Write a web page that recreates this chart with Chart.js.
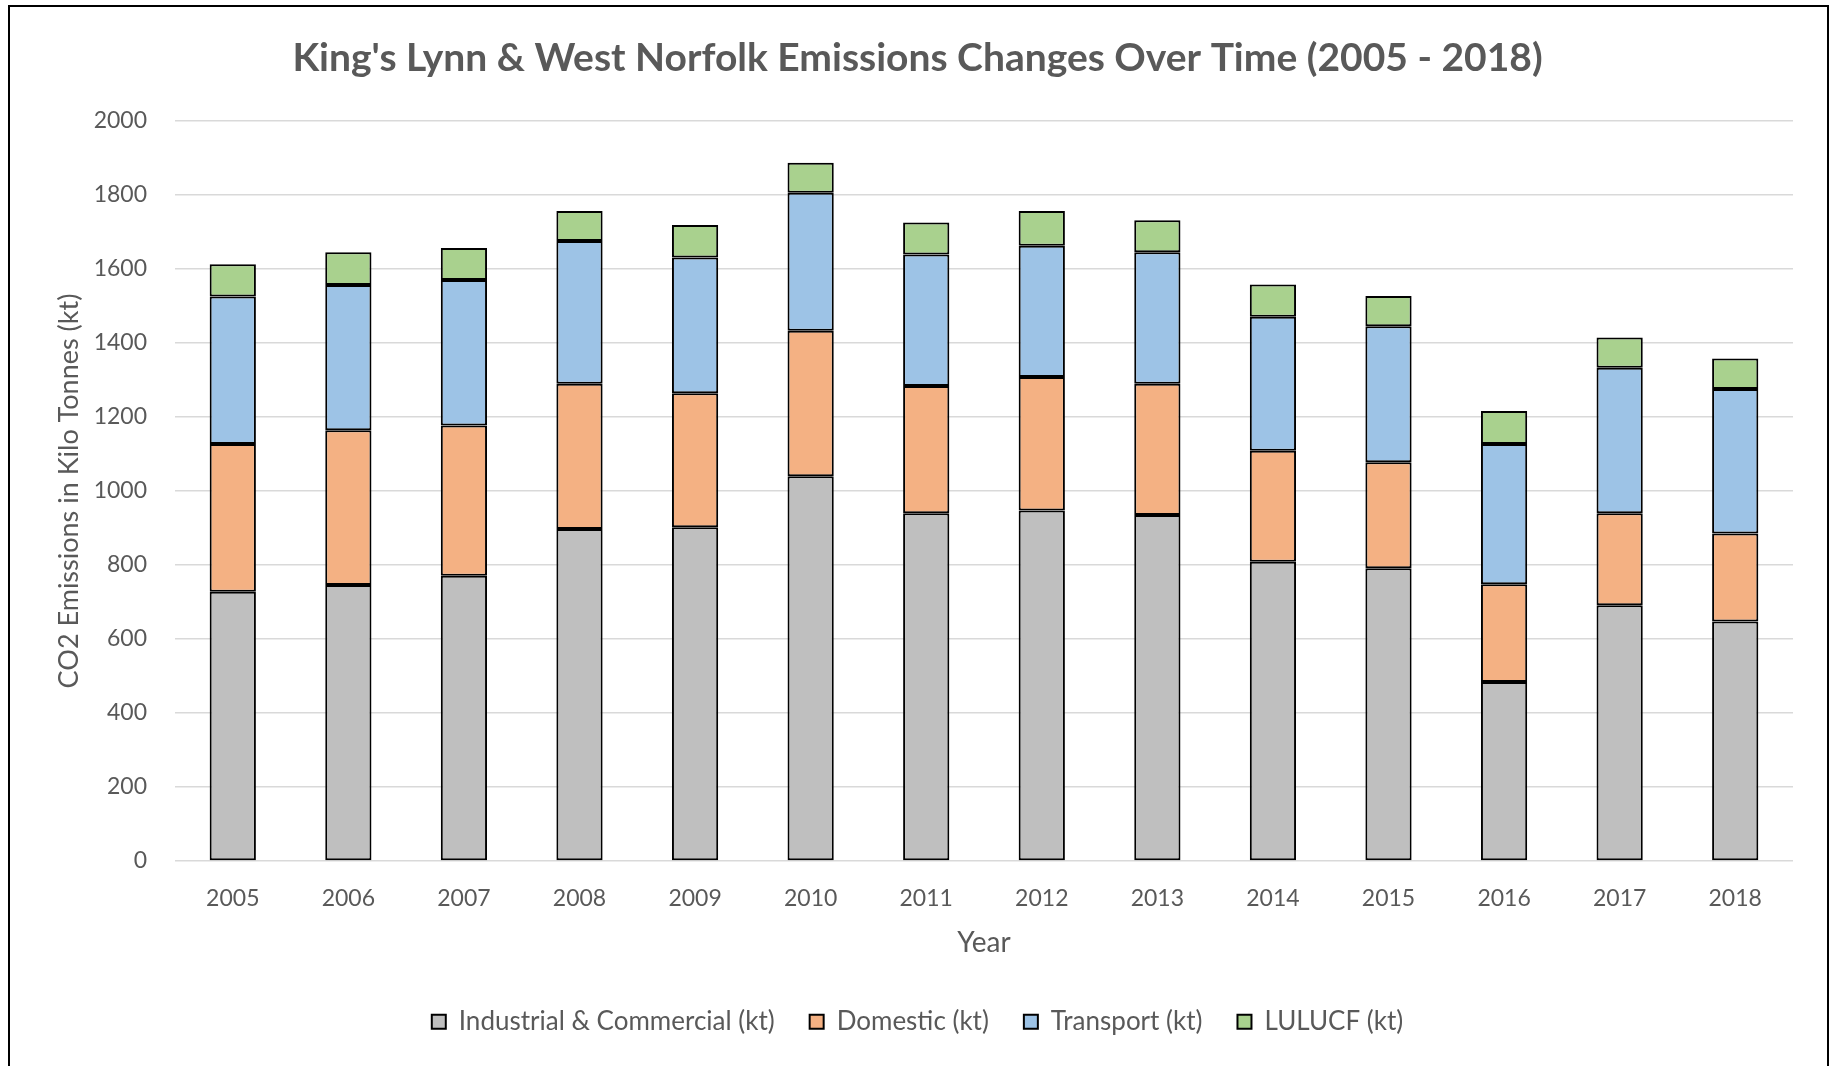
<!DOCTYPE html>
<html>
<head>
<meta charset="utf-8">
<title>King's Lynn &amp; West Norfolk Emissions</title>
<script src="https://cdn.jsdelivr.net/npm/chart.js@4/dist/chart.umd.min.js"></script>
<style>
  html, body { margin: 0; padding: 0; background: #fff; }
  #wrap { position: absolute; left: 0; top: 0; width: 1835px; height: 1066px; }
  #frame { position: absolute; left: 8px; top: 5px; width: 1821px; height: 1100px; border: 2px solid #000; box-sizing: border-box; pointer-events: none; }
</style>
</head>
<body>
<div id="wrap"><canvas id="emissions-chart"></canvas></div>
<div id="frame"></div>
<script>
'use strict';

var YEARS = ['2005', '2006', '2007', '2008', '2009', '2010', '2011', '2012', '2013', '2014', '2015', '2016', '2017', '2018'];
var INDUSTRIAL = [728, 746, 771, 897, 902, 1040, 940, 947, 935, 809, 791, 484, 691, 647];
var DOMESTIC = [399, 418, 406, 393, 362, 393, 344, 361, 355, 300, 287, 264, 249, 238];
var TRANSPORT = [399, 393, 393, 386, 367, 373, 355, 355, 355, 362, 367, 379, 393, 391];
var LULUCF = [87, 88, 87, 81, 88, 81, 87, 94, 87, 87, 82, 89, 82, 82];
var Y_TICKS = [0, 200, 400, 600, 800, 1000, 1200, 1400, 1600, 1800, 2000];

var GREY = '#BFBFBF', ORANGE = '#F4B183', BLUE = '#9DC3E6', GREEN = '#A9D18E';
var TEXT = '#595959', GRID = '#D9D9D9';
var FONT = 'Lato, "Open Sans", sans-serif';

function series(label, data, color) {
  return { label: label, data: data, backgroundColor: color, borderColor: '#000', borderWidth: 2, borderSkipped: false,
    categoryPercentage: 1, barPercentage: 0.4 };
}

new Chart(document.getElementById('emissions-chart'), {
  type: 'bar',
  data: { labels: YEARS, datasets: [
    series('Industrial & Commercial (kt)', INDUSTRIAL, GREY),
    series('Domestic (kt)', DOMESTIC, ORANGE),
    series('Transport (kt)', TRANSPORT, BLUE),
    series('LULUCF (kt)', LULUCF, GREEN)
  ]},
  options: {
    responsive: true, maintainAspectRatio: false, animation: false,
    layout: { padding: { left: 42, right: 42, top: 0, bottom: 21.3 } },
    plugins: {
      title: { display: true, text: "King's Lynn & West Norfolk Emissions Changes Over Time (2005 - 2018)",
        color: TEXT, font: { family: FONT, size: 39, weight: 'bold' }, padding: { top: 34.6, bottom: 39.6 } },
      legend: { position: 'bottom',
        labels: { color: TEXT, font: { family: FONT, size: 26 }, boxWidth: 14, boxHeight: 14, padding: 35 } },
      tooltip: { enabled: false }
    },
    scales: {
      x: { stacked: true,
        grid: { display: false, drawTicks: true, tickLength: 23.7 }, border: { display: false },
        ticks: { color: TEXT, font: { family: FONT, size: 23 }, padding: 0, maxRotation: 0 },
        title: { display: true, text: 'Year', color: TEXT, font: { family: FONT, size: 28 }, padding: { top: 13.4, bottom: 14.4 } }
      },
      y: { stacked: true, min: 0, max: 2000,
        afterBuildTicks: function(scale) { scale.ticks = Y_TICKS.map(function(v) { return { value: v }; }); },
        afterFit: function(scale) { scale.width = 133; },
        grid: { color: GRID, lineWidth: 1.5, drawTicks: false }, border: { display: false },
        ticks: { color: TEXT, font: { family: FONT, size: 23 }, padding: 28, callback: function(v) { return String(v); } },
        title: { display: true, text: 'CO2 Emissions in Kilo Tonnes (kt)', color: TEXT, font: { family: FONT, size: 27 }, padding: { top: 10.8, bottom: 0 } }
      }
    }
  }
});
</script>
</body>
</html>
